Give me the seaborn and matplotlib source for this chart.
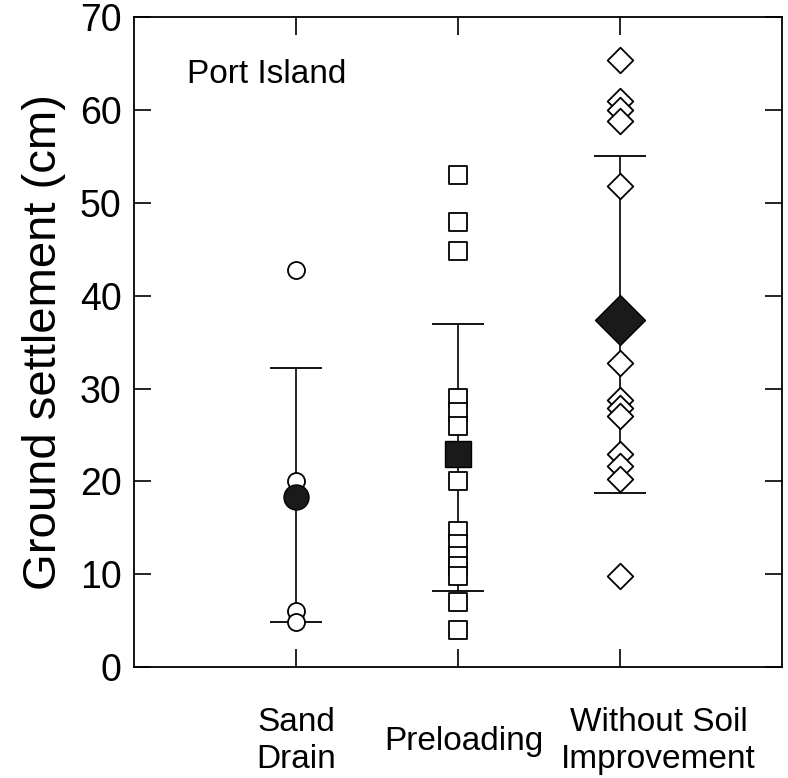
import matplotlib
matplotlib.use("Agg")
import matplotlib.pyplot as plt
import matplotlib.transforms as mtransforms
import seaborn as sns
import pandas as pd
import numpy as np

# ---- data ----
categories = ["Sand\nDrain", "Preloading", "Without Soil\nImprovement"]
sand_drain = [42.8, 20.0, 6.0, 4.9]
preloading = [53.0, 48.0, 44.8, 29.0, 27.5, 26.0, 20.0, 14.6, 13.3, 12.0, 10.9, 9.8, 7.0, 4.0]
without_soil = [65.4, 61.0, 60.0, 58.8, 51.8, 32.8, 28.8, 27.9, 27.0, 23.0, 21.7, 20.3, 9.8]
means = [18.3, 23.0, 37.4]
upper = [32.2, 37.0, 55.1]
lower = [4.9, 8.2, 18.7]
markers = ["o", "s", "D"]
open_sizes = [150, 150, 170]
mean_sizes = [18, 19, 25]
label_shift_pts = [0, 4, 28]

sns.set_theme(style="ticks")
plt.rcParams['font.family'] = ['Liberation Sans', 'DejaVu Sans']
for k in ["text.color", "axes.labelcolor", "xtick.color", "ytick.color", "axes.edgecolor"]:
    plt.rcParams[k] = "black"

fig = plt.figure(figsize=(7.88, 7.78), dpi=100)
ax = fig.add_axes([0.170, 0.1427, 0.822, 0.835])

groups = [sand_drain, preloading, without_soil]
for i, (vals, mk, sz) in enumerate(zip(groups, markers, open_sizes)):
    df = pd.DataFrame({"x": [i + 1] * len(vals), "y": vals})
    sns.scatterplot(data=df, x="x", y="y", marker=mk, s=sz,
                    facecolor="white", edgecolor="black", linewidth=1.3, ax=ax, zorder=3)

xpos = np.arange(1, len(categories) + 1)
for i in range(len(categories)):
    ax.errorbar([xpos[i]], [means[i]],
                yerr=[[means[i] - lower[i]], [upper[i] - means[i]]],
                fmt="none", ecolor="black", elinewidth=1.2, capsize=19, capthick=1.3, zorder=2)
    ax.plot([xpos[i]], [means[i]], marker=markers[i], markersize=mean_sizes[i],
            color="#1a1a1a", markeredgecolor="black", linestyle="none", zorder=4)

ax.set_xlim(0, 4)
ax.set_ylim(0, 70)
ax.set_yticks(range(0, 71, 10))
ax.set_xticks(xpos)
ax.set_xticklabels([])
trans = mtransforms.blended_transform_factory(ax.transData, ax.transAxes)
for i, lab in enumerate(categories):
    t = mtransforms.offset_copy(trans, fig=fig, x=label_shift_pts[i], y=0, units="points")
    ax.text(xpos[i], -0.114, lab, transform=t, ha="center", va="center",
            fontsize=24, linespacing=1.25, multialignment="center")
ax.tick_params(axis="x", which="both", direction="in", length=13, width=1.2,
               top=True, bottom=True)
ax.tick_params(axis="y", which="both", direction="in", length=12, width=1.2,
               left=True, right=True, labelsize=27, pad=9)
for s in ax.spines.values():
    s.set_linewidth(1.3)
    s.set_color("black")

ax.set_xlabel("")
ax.set_ylabel("Ground settlement (cm)", fontsize=34, labelpad=10)
ax.text(0.33, 63.8, "Port Island", fontsize=24, va="center", ha="left")

fig.savefig("out.png", dpi=100)
